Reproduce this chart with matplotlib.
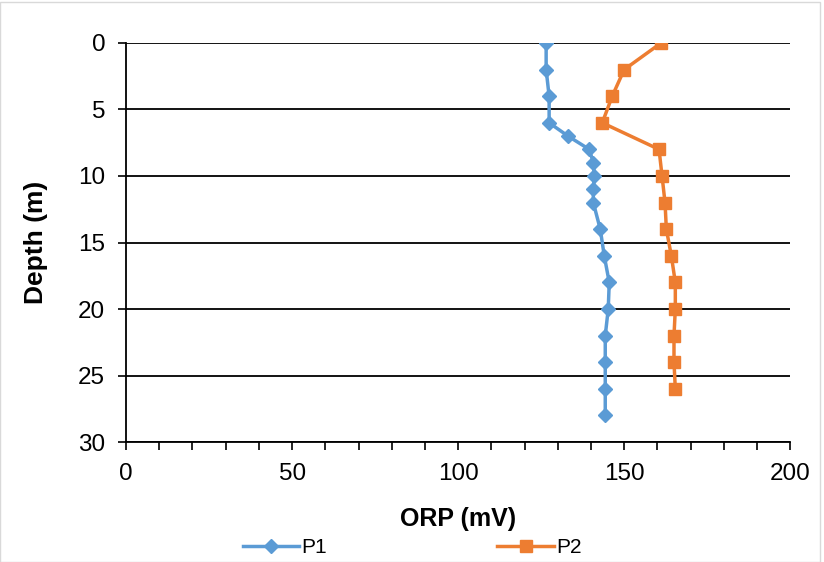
import numpy as np
import matplotlib.pyplot as plt
from matplotlib.patches import Rectangle
from matplotlib.ticker import MultipleLocator

plt.rcParams['font.family'] = ['Liberation Sans', 'DejaVu Sans']

# ORP profiles with depth
depth_p1 = [0, 2, 4, 6, 7, 8, 9, 10, 11, 12, 14, 16, 18, 20, 22, 24, 26, 28]
orp_p1 = [126.5, 126.5, 127.4, 127.4, 133.1, 139.5, 140.7, 141.0, 140.7, 140.7,
          142.8, 144.0, 145.5, 145.2, 144.3, 144.3, 144.3, 144.3]

depth_p2 = [0, 2, 4, 6, 8, 10, 12, 14, 16, 18, 20, 22, 24, 26]
orp_p2 = [161.1, 150.0, 146.4, 143.4, 160.5, 161.4, 162.3, 162.7, 164.2,
          165.4, 165.4, 165.0, 165.0, 165.4]

fig = plt.figure(figsize=(8.24, 5.62), dpi=100)
ax = fig.add_axes([0.153, 0.2135, 0.806, 0.71])

ax.plot(orp_p1, depth_p1, marker='D', markersize=7, linewidth=2.5,
        color='#5B9BD5', label='P1')
ax.plot(orp_p2, depth_p2, marker='s', markersize=9, linewidth=2.5,
        color='#ED7D31', label='P2')

ax.set_xlim(0, 200)
ax.set_ylim(30, 0)
ax.set_yticks(np.arange(0, 31, 5))
ax.set_xticks(np.arange(0, 201, 50))
ax.xaxis.set_minor_locator(MultipleLocator(10))
ax.tick_params(axis='both', labelsize=17.5, direction='out', length=6, width=1.2, pad=9)
ax.tick_params(axis='x', which='minor', direction='out', length=6, width=1.2)
ax.grid(axis='y', color='black', linewidth=1.3)
ax.set_axisbelow(True)

for s in ['top', 'right']:
    ax.spines[s].set_visible(False)
for s in ['left', 'bottom']:
    ax.spines[s].set_linewidth(1.3)

ax.set_xlabel('ORP (mV)', fontsize=18, fontweight='bold', labelpad=16)
ax.set_ylabel('Depth (m)', fontsize=19, fontweight='bold', labelpad=22)

fig.legend(loc='lower center', bbox_to_anchor=(0.5, -0.025), ncol=2,
           frameon=False, fontsize=15, columnspacing=8.2, handlelength=2.7,
           handletextpad=0.1)

fig.patches.append(Rectangle((0, 0), 0.995, 0.997, transform=fig.transFigure,
                             fill=False, edgecolor='#D9D9D9', linewidth=1))

fig.savefig('out.png', dpi=100)
